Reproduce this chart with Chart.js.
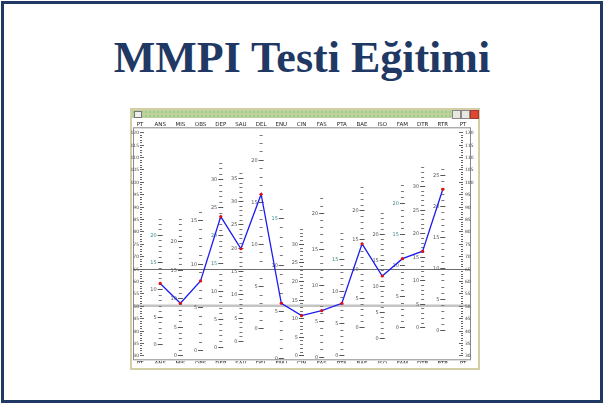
<!DOCTYPE html>
<html>
<head>
<meta charset="utf-8">
<script src="https://cdn.jsdelivr.net/npm/chart.js@4"></script>
<style>
  html, body { margin: 0; padding: 0; background: #fff; }
  #page { position: relative; width: 604px; height: 404px; overflow: hidden; }
  #frame { position: absolute; left: 1px; top: 1px; width: 596px; height: 396px; border: 3px solid #1f3864; }
  #title { position: absolute; left: 0; width: 604px; top: 32px; text-align: center;
           font-family: 'Liberation Serif', serif; font-weight: bold; font-size: 44px; color: #1f3864; }
  #win { position: absolute; left: 130px; top: 108px; width: 346px; height: 258px;
         border: 2px solid #d2cfa6; background: #fff; }
  #bar { position: absolute; left: 0; top: 0; width: 346px; height: 8px;
         background-color: #c4cf9c;
         background-image: radial-gradient(#8fd48f 35%, transparent 40%);
         background-size: 4px 4px; }
  #icon { position: absolute; left: 2px; top: 1px; width: 6px; height: 5px; background: #eee; border: 1px solid #777; }
  .btn { position: absolute; top: 0; width: 7px; height: 7px; border: 1px solid #888; background: #e8e8e0; }
  #close { background: #d9482f; border-color: #a33; }
  canvas { position: absolute; left: 0; top: 0; }
</style>
</head>
<body>
<div id="page">
  <div id="frame"></div>
  <div id="title">MMPI Testi Eğitimi</div>
  <div id="win">
    <div id="bar">
      <div id="icon"></div>
      <div class="btn" style="left:320px"></div>
      <div class="btn" style="left:329px"></div>
      <div class="btn" id="close" style="left:338px"></div>
    </div>
  </div>
  <canvas id="chart" width="604" height="404"></canvas>
</div>
<script>
// kategori etiketleri (PT iki uçta T-puanı cetveli)
const scaleNames = ['ANS', 'MIS', 'OBS', 'DEP', 'SAU', 'DEL', 'ENU', 'CIN', 'FAS', 'PTA', 'BAE', 'ISO', 'FAM', 'DTR', 'RTR'];
const axisLabels = ['PT', ...scaleNames, 'PT'];

// T puanları
const tScores = [59, 51, 60, 86, 73, 95, 51, 46, 48, 51, 75, 62, 69, 72, 97];

// ham puan cetvelleri: ham 0'ın T karşılığı, ham puan başına T artışı, en yüksek ham puan
const rawZeroT = [34.6, 30, 32, 33.5, 35.8, 40.9, 29, 30, 29.5, 30, 41.5, 37, 41.3, 41.3, 40.2];
const rawStepT = [2.2, 2.3, 3.5, 2.25, 1.88, 3.4, 3.76, 1.5, 2.9, 2.6, 2.35, 2.1, 2.5, 1.9, 2.5];
const rawMax = [23, 24, 16, 33, 36, 23, 16, 34, 22, 19, 24, 24, 23, 34, 26];

// T cetveli ve çizgiler
const tMin = 30;
const tMax = 120;
const cutoffT = 65;
const meanT = 50;

const profile = [null, ...tScores, null];

const mmpiScales = {
  id: 'mmpiScales',
  beforeDatasetsDraw(chart) {
    const ctx = chart.ctx;
    const xs = chart.scales.x;
    const ys = chart.scales.y;
    const a = chart.chartArea;
    ctx.save();

    // grafik kutusu
    ctx.strokeStyle = '#8a8a8a';
    ctx.lineWidth = 1;
    ctx.strokeRect(a.left - 6.5, a.top - 4.5, a.right - a.left + 14, a.bottom - a.top + 9);

    // 50 ve 65 çizgileri
    ctx.strokeStyle = '#c4c4c4';
    ctx.lineWidth = 2.5;
    let y50 = ys.getPixelForValue(meanT);
    ctx.beginPath(); ctx.moveTo(a.left - 6, y50); ctx.lineTo(a.right + 7, y50); ctx.stroke();
    ctx.strokeStyle = '#6e6e6e';
    ctx.lineWidth = 1;
    let y65 = Math.round(ys.getPixelForValue(cutoffT)) + 0.5;
    ctx.beginPath(); ctx.moveTo(a.left - 6, y65); ctx.lineTo(a.right + 7, y65); ctx.stroke();

    ctx.font = '4.5px "DejaVu Sans"';
    ctx.textBaseline = 'middle';

    // PT cetvelleri (sol ve sağ)
    const xl = xs.getPixelForValue(0);
    const xr = xs.getPixelForValue(axisLabels.length - 1);
    ctx.strokeStyle = '#666';
    ctx.fillStyle = '#444';
    for (let t = tMin; t <= tMax; t++) {
      const y = Math.round(ys.getPixelForValue(t)) + 0.5;
      const major = t % 5 === 0;
      const len = major ? 4 : 2;
      ctx.beginPath();
      ctx.moveTo(xl, y); ctx.lineTo(xl + len, y);
      ctx.moveTo(xr - len, y); ctx.lineTo(xr, y);
      ctx.stroke();
      if (major) {
        ctx.textAlign = 'right';
        ctx.fillText(String(t), xl - 1, y);
        ctx.textAlign = 'left';
        ctx.fillText(String(t), xr + 2, y);
      }
    }

    // ham puan cetvelleri
    ctx.font = '5px "DejaVu Sans"';
    ctx.textAlign = 'right';
    scaleNames.forEach((name, i) => {
      const x = xs.getPixelForValue(i + 1);
      for (let r = 0; r <= rawMax[i]; r++) {
        const t = rawZeroT[i] + r * rawStepT[i];
        if (t > tMax) break;
        const y = Math.round(ys.getPixelForValue(t)) + 0.5;
        const major = r % 5 === 0;
        ctx.strokeStyle = major ? '#555' : '#777';
        ctx.beginPath();
        ctx.moveTo(x - (major ? 2.5 : 1.5), y);
        ctx.lineTo(x + (major ? 2.5 : 1.5), y);
        ctx.stroke();
        if (major) {
          ctx.fillStyle = (r === 20 || r === 15) && i % 3 === 0 ? '#3a8a8a' : '#555';
          ctx.fillText(String(r), x - 3.5, y);
        }
      }
    });
    ctx.restore();
  }
};

const tickFont = { family: 'DejaVu Sans', size: 5.5 };

new Chart(document.getElementById('chart'), {
  type: 'line',
  data: {
    labels: axisLabels,
    datasets: [{
      label: 'T',
      data: profile,
      borderColor: '#1c1cf2',
      borderWidth: 1.3,
      pointRadius: 1.6,
      pointBackgroundColor: '#e01010',
      pointBorderColor: '#e01010',
      pointBorderWidth: 0,
      tension: 0,
      spanGaps: false,
    }],
  },
  options: {
    responsive: false,
    animation: false,
    devicePixelRatio: 1,
    layout: { padding: { left: 140, right: 141, top: 118, bottom: 40.7 } },
    plugins: { legend: { display: false }, tooltip: { enabled: false } },
    scales: {
      x: {
        type: 'category',
        position: 'bottom',
        offset: false,
        grid: { display: false, drawTicks: false },
        border: { display: false },
        ticks: { font: tickFont, color: '#222', autoSkip: false, maxRotation: 0, padding: 5 },
        afterFit: (s) => { s.height = 8; },
      },
      xTop: {
        type: 'category',
        labels: axisLabels,
        position: 'top',
        offset: false,
        grid: { display: false, drawTicks: false },
        border: { display: false },
        ticks: { font: tickFont, color: '#222', autoSkip: false, maxRotation: 0, padding: 4 },
        afterFit: (s) => { s.height = 14.3; },
      },
      y: { min: tMin, max: tMax, display: false },
    },
  },
  plugins: [mmpiScales],
});
</script>
</body>
</html>
